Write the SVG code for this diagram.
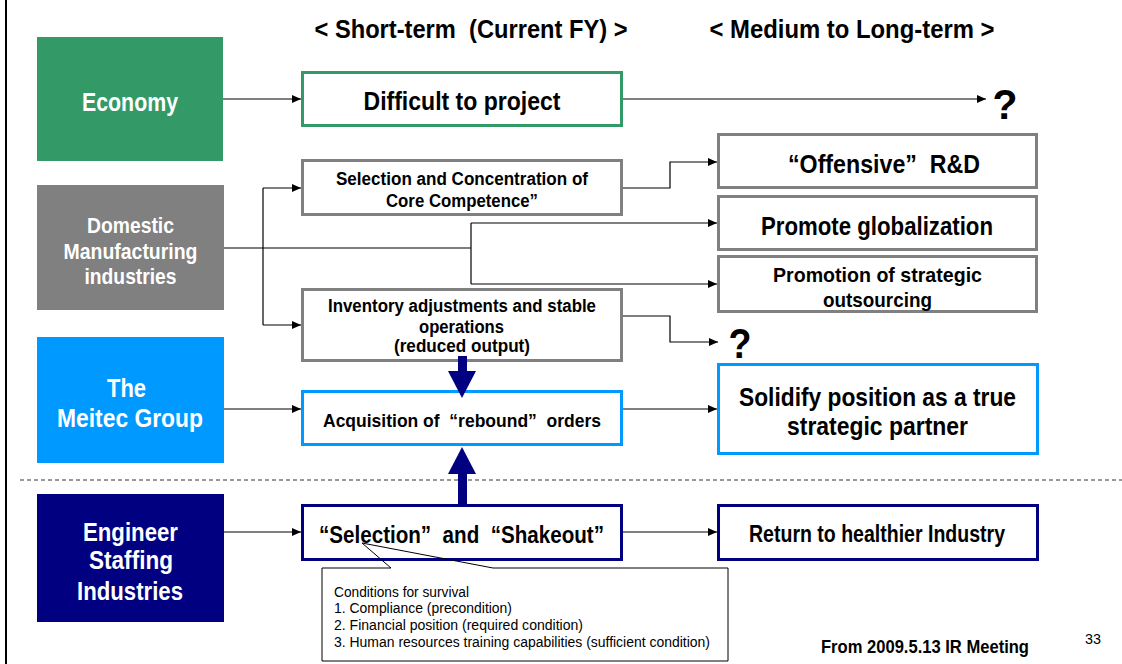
<svg xmlns="http://www.w3.org/2000/svg" width="1122" height="664" viewBox="0 0 1122 664">
<defs>
<marker id="ah" markerUnits="userSpaceOnUse" markerWidth="9" markerHeight="8" refX="9" refY="4" orient="auto">
<path d="M0,0 L9,4 L0,8 z" fill="#000"/>
</marker>
<style>
text{font-family:"Liberation Sans","Noto Sans CJK JP",sans-serif;font-weight:bold;fill:#000;white-space:pre;}
.c{text-anchor:middle;}
.w{fill:#fff;}
.n{font-weight:normal;}
.ln{fill:none;stroke:#000;stroke-width:1.2;}
.box{fill:#fff;stroke-width:3;}
.g{stroke:#339966;}
.gy{stroke:#808080;}
.b{stroke:#0099ff;}
.nv{stroke:#000080;}
</style>
</defs>
<rect width="1122" height="664" fill="#fff"/>
<line x1="6" y1="0" x2="6" y2="664" stroke="#000" stroke-width="2"/>
<line x1="20" y1="480" x2="1122" y2="480" stroke="#333" stroke-width="1" stroke-dasharray="4,3"/>

<g id="headers">
<text class="c" x="471" y="38" font-size="26" textLength="313" lengthAdjust="spacingAndGlyphs">&lt; Short-term  (Current FY) &gt;</text>
<text class="c" x="852" y="38" font-size="26" textLength="285" lengthAdjust="spacingAndGlyphs">&lt; Medium to Long-term &gt;</text>
</g>

<g id="connectors">
<path class="ln" d="M223,99 H301" marker-end="url(#ah)"/>
<path class="ln" d="M623,99 H986" marker-end="url(#ah)"/>
<path class="ln" d="M224,248 H471" stroke-width="1.6"/>
<path class="ln" d="M263,188 V325"/>
<path class="ln" d="M263,188 H301" marker-end="url(#ah)"/>
<path class="ln" d="M263,325 H301" marker-end="url(#ah)"/>
<path class="ln" d="M471,223 V284"/>
<path class="ln" d="M471,223 H717" marker-end="url(#ah)"/>
<path class="ln" d="M471,284 H717" marker-end="url(#ah)"/>
<path class="ln" d="M623,188 H670 V162 H717" marker-end="url(#ah)"/>
<path class="ln" d="M623,316 H670 V342 H718" marker-end="url(#ah)"/>
<path class="ln" d="M224,409 H301" marker-end="url(#ah)"/>
<path class="ln" d="M623,409 H717" marker-end="url(#ah)"/>
<path class="ln" d="M224,532 H301" marker-end="url(#ah)"/>
<path class="ln" d="M623,532 H717" marker-end="url(#ah)"/>
</g>

<g id="economy">
<rect x="37" y="37" width="186" height="124" fill="#339966"/>
<text class="c w" x="130" y="111" font-size="25" textLength="96" lengthAdjust="spacingAndGlyphs">Economy</text>
</g>
<g id="domestic">
<rect x="37" y="185" width="187" height="125" fill="#808080"/>
<text class="c w" x="130.5" y="233" font-size="22" textLength="87" lengthAdjust="spacingAndGlyphs">Domestic</text>
<text class="c w" x="130.5" y="259" font-size="22" textLength="134" lengthAdjust="spacingAndGlyphs">Manufacturing</text>
<text class="c w" x="130.5" y="284" font-size="22" textLength="92" lengthAdjust="spacingAndGlyphs">industries</text>
</g>
<g id="meitec">
<rect x="37" y="337" width="187" height="126" fill="#0099ff"/>
<text class="c w" x="126.5" y="397" font-size="26" textLength="39" lengthAdjust="spacingAndGlyphs">The</text>
<text class="c w" x="130" y="427" font-size="26" textLength="146" lengthAdjust="spacingAndGlyphs">Meitec Group</text>
</g>
<g id="engineer">
<rect x="37" y="494" width="187" height="128" fill="#000080"/>
<text class="c w" x="130.5" y="541" font-size="25" textLength="95" lengthAdjust="spacingAndGlyphs">Engineer</text>
<text class="c w" x="131" y="569" font-size="25" textLength="84" lengthAdjust="spacingAndGlyphs">Staffing</text>
<text class="c w" x="130" y="600" font-size="25" textLength="106" lengthAdjust="spacingAndGlyphs">Industries</text>
</g>

<g id="difficult">
<rect class="box g" x="302.5" y="72.5" width="319" height="53"/>
<text class="c" x="462" y="110" font-size="25" textLength="197" lengthAdjust="spacingAndGlyphs">Difficult to project</text>
</g>
<g id="q1">
<text class="c" x="1005" y="119" font-size="42" textLength="25" lengthAdjust="spacingAndGlyphs">?</text>
</g>
<g id="selection-concentration">
<rect class="box gy" x="302.5" y="160.5" width="319" height="54"/>
<text class="c" x="462" y="185" font-size="18" textLength="252" lengthAdjust="spacingAndGlyphs">Selection and Concentration of</text>
<text class="c" x="462" y="207" font-size="18" textLength="152" lengthAdjust="spacingAndGlyphs">Core Competence”</text>
</g>
<g id="inventory">
<rect class="box gy" x="302.5" y="289.5" width="319" height="71"/>
<text class="c" x="462" y="312" font-size="18" textLength="268" lengthAdjust="spacingAndGlyphs">Inventory adjustments and stable</text>
<text class="c" x="461.5" y="333" font-size="18" textLength="85" lengthAdjust="spacingAndGlyphs">operations</text>
<text class="c" x="462" y="352" font-size="18" textLength="136" lengthAdjust="spacingAndGlyphs">(reduced output)</text>
</g>
<g id="acquisition">
<rect class="box b" x="302.5" y="391.5" width="319" height="53"/>
<text class="c" x="462" y="427" font-size="19" textLength="278" lengthAdjust="spacingAndGlyphs">Acquisition of  “rebound”  orders</text>
</g>
<g id="selection-shakeout">
<rect class="box nv" x="302.5" y="505.5" width="319" height="54"/>
<text class="c" x="461.5" y="543" font-size="23" textLength="285" lengthAdjust="spacingAndGlyphs">“Selection”  and  “Shakeout”</text>
</g>

<g id="offensive-rd">
<rect class="box gy" x="718.5" y="134.5" width="318" height="53"/>
<text class="c" x="884" y="173" font-size="25" textLength="192" lengthAdjust="spacingAndGlyphs">“Offensive”  R&amp;D</text>
</g>
<g id="globalization">
<rect class="box gy" x="718.5" y="196.5" width="318" height="53"/>
<text class="c" x="877" y="235" font-size="25" textLength="232" lengthAdjust="spacingAndGlyphs">Promote globalization</text>
</g>
<g id="outsourcing">
<rect class="box gy" x="718.5" y="256.5" width="318" height="55"/>
<text class="c" x="877.5" y="282" font-size="21" textLength="209" lengthAdjust="spacingAndGlyphs">Promotion of strategic</text>
<text class="c" x="877.5" y="307" font-size="21" textLength="109" lengthAdjust="spacingAndGlyphs">outsourcing</text>
</g>
<g id="q2">
<text class="c" x="740" y="358" font-size="42" textLength="23" lengthAdjust="spacingAndGlyphs">?</text>
</g>
<g id="solidify">
<rect class="box b" x="718.5" y="364.5" width="319" height="89"/>
<text class="c" x="877.5" y="406" font-size="26" textLength="277" lengthAdjust="spacingAndGlyphs">Solidify position as a true</text>
<text class="c" x="877.5" y="435" font-size="26" textLength="181" lengthAdjust="spacingAndGlyphs">strategic partner</text>
</g>
<g id="return">
<rect class="box nv" x="718.5" y="505.5" width="319" height="54"/>
<text class="c" x="877" y="542" font-size="23" textLength="256" lengthAdjust="spacingAndGlyphs">Return to healthier Industry</text>
</g>

<g id="thick-arrows">
<rect x="458" y="356" width="9" height="16" fill="#000080"/>
<polygon points="448,371 476,371 462,398" fill="#000080"/>
<rect x="458" y="473" width="9" height="32" fill="#000080"/>
<polygon points="448,474 476,474 462,447" fill="#000080"/>
</g>

<g id="callout">
<rect x="322" y="568" width="406" height="93" fill="#fff"/>
<path d="M391,568 L362,543 L493,568" fill="none" stroke="#000" stroke-width="1"/>
<path d="M391,568 H322 V661 H728 V568 H493" fill="none" stroke="#000" stroke-width="1"/>
<text x="334" y="597" font-size="14" class="n" textLength="135" lengthAdjust="spacingAndGlyphs">Conditions for survival</text>
<text x="334" y="613" font-size="14" class="n" textLength="178" lengthAdjust="spacingAndGlyphs">1. Compliance (precondition)</text>
<text x="334" y="630" font-size="14" class="n" textLength="249" lengthAdjust="spacingAndGlyphs">2. Financial position (required condition)</text>
<text x="334" y="647" font-size="14" class="n" textLength="376" lengthAdjust="spacingAndGlyphs">3. Human resources training capabilities (sufficient condition)</text>
</g>

<g id="footer">
<text class="c" x="925" y="653" font-size="18" textLength="208" lengthAdjust="spacingAndGlyphs">From 2009.5.13 IR Meeting</text>
<text class="c n" x="1093" y="644" font-size="15" textLength="16" lengthAdjust="spacingAndGlyphs">33</text>
</g>
</svg>
